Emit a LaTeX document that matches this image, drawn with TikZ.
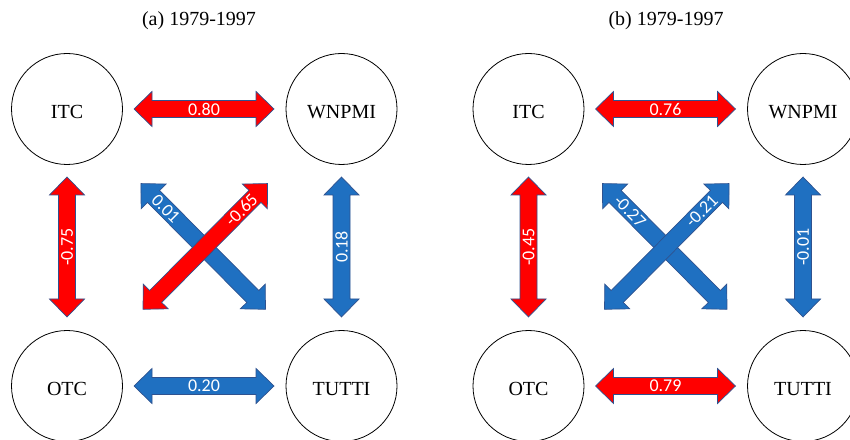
\documentclass[tikz,border=0pt]{standalone}
\usepackage{fontspec}
\setmainfont{Liberation Serif}
\newfontfamily\numfont{Carlito}
\usetikzlibrary{calc}

\definecolor{posred}{RGB}{255,0,0}
\definecolor{negblue}{RGB}{31,112,193}
\definecolor{edgeblue}{RGB}{47,82,143}

% block arrow geometry
\def\headlen{18pt}
\def\headhalf{17.5pt}
\def\shafthalf{8.5pt}

% double-headed block arrow between two points, with a label on the shaft
% #1,#2 tips  #3 fill  #4 label  #5 label position (fraction)  #6 label rotation
\newcommand\blockarrow[6]{%
  \filldraw[arrowbody, fill=#3]
    (#1) -- ($(#1)!\headlen!(#2)!\headhalf!90:(#2)$)
    -- ($(#1)!\headlen!(#2)!\shafthalf!90:(#2)$)
    -- ($(#2)!\headlen!(#1)!\shafthalf!-90:(#1)$)
    -- ($(#2)!\headlen!(#1)!\headhalf!-90:(#1)$)
    -- (#2)
    -- ($(#2)!\headlen!(#1)!\headhalf!90:(#1)$)
    -- ($(#2)!\headlen!(#1)!\shafthalf!90:(#1)$)
    -- ($(#1)!\headlen!(#2)!\shafthalf!-90:(#2)$)
    -- ($(#1)!\headlen!(#2)!\headhalf!-90:(#2)$)
    -- cycle;
  \node[numlabel, rotate=#6] at ($(#1)!#5!(#2)$) {#4};
}

\tikzset{
  station/.style={circle, draw=black, line width=0.8pt, minimum size=111pt,
    inner sep=0pt, text height=19pt, text depth=0pt,
    font=\fontsize{20}{24}\selectfont},
  arrowbody/.style={draw=edgeblue, line width=0.7pt, line join=miter},
  numlabel/.style={text=white, inner sep=0pt,
    font=\numfont\fontsize{18}{20}\selectfont},
  paneltitle/.style={anchor=base, font=\fontsize{20}{24}\selectfont}
}

\begin{document}
\begin{tikzpicture}[x=1pt, y=1pt]
\useasboundingbox (0,0) rectangle (850,439);
\clip (0,0) rectangle (850,439);
\fill[white] (0,0) rectangle (850,439);

% ---------- panel (a) ----------
\node[paneltitle] (a-title) at (199,413) {(a) 1979-1997};
\node[station] (a-itc) at (67,330)    {ITC};
\node[station] (a-wnp) at (341.5,330) {WNPMI};
\node[station] (a-otc) at (67,53)     {OTC};
\node[station] (a-tut) at (341.5,53)  {TUTTI};

\coordinate (a-t1) at ($(a-itc)!67pt!(a-wnp)$);
\coordinate (a-t2) at ($(a-wnp)!67.5pt!(a-itc)$);
\coordinate (a-b1) at ($(a-otc)!67pt!(a-tut)$);
\coordinate (a-b2) at ($(a-tut)!67.5pt!(a-otc)$);
\coordinate (a-l1) at ($(a-itc)!68pt!(a-otc)$);
\coordinate (a-l2) at ($(a-otc)!69pt!(a-itc)$);
\coordinate (a-r1) at ($(a-wnp)!68pt!(a-tut)$);
\coordinate (a-r2) at ($(a-tut)!69pt!(a-wnp)$);
\coordinate (a-d1) at ($(a-itc)!105pt!(a-tut)$);
\coordinate (a-d2) at ($(a-tut)!108pt!(a-itc)$);
\coordinate (a-e1) at ($(a-otc)!108pt!(a-wnp)$);
\coordinate (a-e2) at ($(a-wnp)!105pt!(a-otc)$);

\blockarrow{a-t1}{a-t2}{posred}{0.80}{0.5}{0}
\blockarrow{a-b1}{a-b2}{negblue}{0.20}{0.5}{0}
\blockarrow{a-l2}{a-l1}{posred}{-0.75}{0.5}{90}
\blockarrow{a-r2}{a-r1}{negblue}{0.18}{0.5}{90}
\blockarrow{a-d1}{a-d2}{negblue}{0.01}{0.2}{-45}
\blockarrow{a-e1}{a-e2}{posred}{-0.65}{0.79}{45}

% ---------- panel (b) ----------
\node[paneltitle] (b-title) at (666,413) {(b) 1979-1997};
\node[station] (b-itc) at (528.5,330) {ITC};
\node[station] (b-wnp) at (803,330)   {WNPMI};
\node[station] (b-otc) at (528.5,53)  {OTC};
\node[station] (b-tut) at (803,53)    {TUTTI};

\coordinate (b-t1) at ($(b-itc)!67pt!(b-wnp)$);
\coordinate (b-t2) at ($(b-wnp)!67.5pt!(b-itc)$);
\coordinate (b-b1) at ($(b-otc)!67pt!(b-tut)$);
\coordinate (b-b2) at ($(b-tut)!67.5pt!(b-otc)$);
\coordinate (b-l1) at ($(b-itc)!68pt!(b-otc)$);
\coordinate (b-l2) at ($(b-otc)!69pt!(b-itc)$);
\coordinate (b-r1) at ($(b-wnp)!68pt!(b-tut)$);
\coordinate (b-r2) at ($(b-tut)!69pt!(b-wnp)$);
\coordinate (b-d1) at ($(b-itc)!105pt!(b-tut)$);
\coordinate (b-d2) at ($(b-tut)!108pt!(b-itc)$);
\coordinate (b-e1) at ($(b-otc)!108pt!(b-wnp)$);
\coordinate (b-e2) at ($(b-wnp)!105pt!(b-otc)$);

\blockarrow{b-t1}{b-t2}{posred}{0.76}{0.5}{0}
\blockarrow{b-b1}{b-b2}{posred}{0.79}{0.5}{0}
\blockarrow{b-l2}{b-l1}{posred}{-0.45}{0.5}{90}
\blockarrow{b-r2}{b-r1}{negblue}{-0.01}{0.5}{90}
\blockarrow{b-d1}{b-d2}{negblue}{-0.27}{0.22}{-45}
\blockarrow{b-e1}{b-e2}{negblue}{-0.21}{0.78}{45}
\end{tikzpicture}
\end{document}
